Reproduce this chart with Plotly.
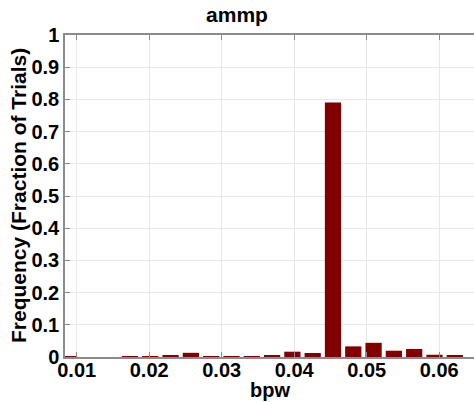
import plotly.graph_objects as go

# Histogram bins of bpw (bin centres) and fraction of trials in each bin
bin_start = 0.00895
bin_width = 0.0028
freq = [0.0005, 0.0, 0.0, 0.003, 0.001, 0.005, 0.013, 0.003, 0.002, 0.001,
        0.006, 0.0165, 0.0125, 0.79, 0.033, 0.044, 0.0195, 0.025, 0.007, 0.005]
bpw = [bin_start + i * bin_width for i in range(len(freq))]

title_text = "ammp"
x_label = "bpw"
y_label = "Frequency (Fraction of Trials)"
x_ticks = [0.01, 0.02, 0.03, 0.04, 0.05, 0.06]
y_ticks = [0, 0.1, 0.2, 0.3, 0.4, 0.5, 0.6, 0.7, 0.8, 0.9, 1]

font_family = "Liberation Sans, Arial, Helvetica, sans-serif"
label_font = dict(family=font_family, size=21, color="black", weight="bold")

fig = go.Figure(
    go.Bar(
        x=bpw,
        y=freq,
        width=bin_width * 0.8,
        marker=dict(color="#800000", line=dict(width=0)),
    )
)

axis_common = dict(
    automargin=False,
    showgrid=True,
    gridcolor="#e8e8e8",
    gridwidth=1,
    showline=True,
    linecolor="#8c8c8c",
    linewidth=1.5,
    ticks="inside",
    ticklen=5,
    tickcolor="#8c8c8c",
    zeroline=False,
    tickfont=dict(family=font_family, size=20, color="black", weight="bold"),
)

fig.update_layout(
    width=474,
    height=402,
    margin=dict(l=65, r=0, t=35, b=45),
    paper_bgcolor="white",
    plot_bgcolor="white",
    showlegend=False,
    title=dict(
        text=title_text,
        x=0.5,
        xanchor="center",
        y=1 - 15 / 402,
        yanchor="middle",
        font=label_font,
    ),
    xaxis=dict(
        range=[0.00839, 0.0648],
        tickvals=x_ticks,
        ticktext=[f"{v:.2f}" for v in x_ticks],
        mirror="ticks",
        ticklabelstandoff=-6,
        **axis_common,
    ),
    yaxis=dict(
        range=[0, 1],
        tickvals=y_ticks,
        ticktext=[f"{v:g}" for v in y_ticks],
        **axis_common,
    ),
)

# Axis titles placed as paper annotations so they can sit outside the margins
fig.add_annotation(
    text=x_label, xref="paper", yref="paper", x=0.5, y=0,
    xanchor="center", yanchor="middle", yshift=-33,
    showarrow=False, font=dict(label_font, size=20),
)
fig.add_annotation(
    text=y_label, xref="paper", yref="paper", x=0, y=0.5,
    xanchor="center", yanchor="middle", xshift=-47, textangle=-90,
    showarrow=False, font=label_font,
)

fig.write_html("out.html")
